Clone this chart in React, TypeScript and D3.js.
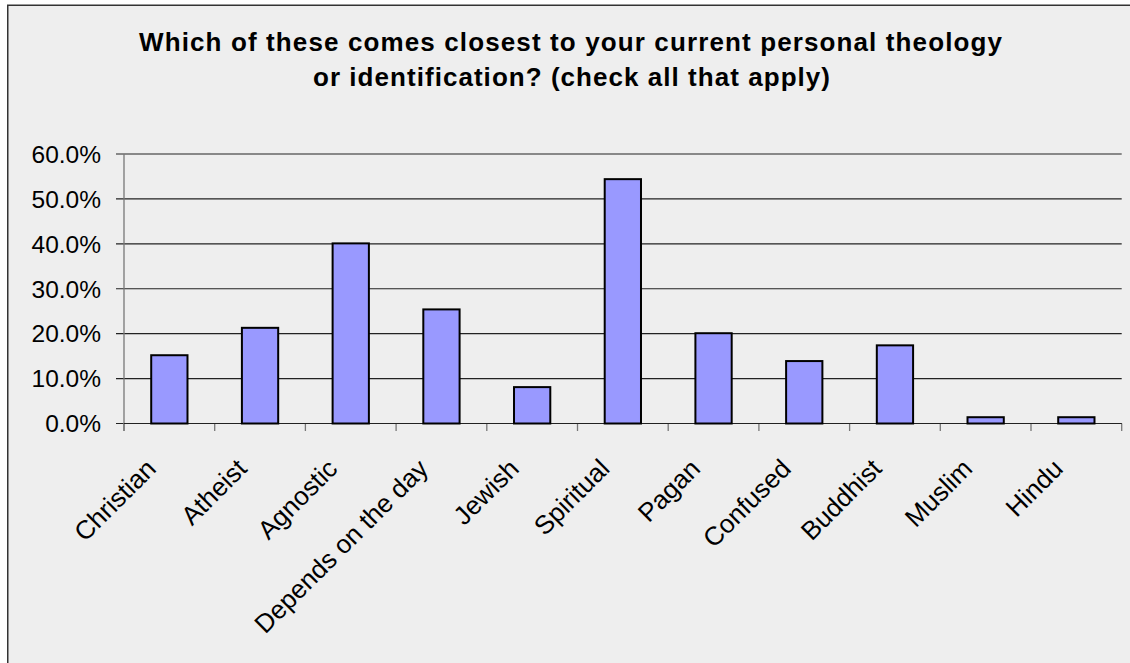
import React from "react";
import * as d3 from "d3";

const categories = [
  "Christian",
  "Atheist",
  "Agnostic",
  "Depends on the day",
  "Jewish",
  "Spiritual",
  "Pagan",
  "Confused",
  "Buddhist",
  "Muslim",
  "Hindu",
];
const values = [0.152, 0.213, 0.401, 0.254, 0.081, 0.544, 0.201, 0.139, 0.174, 0.014, 0.014];
const yTicks = [0, 0.1, 0.2, 0.3, 0.4, 0.5, 0.6];
const titleLines = [
  "Which of these comes closest to your current personal theology",
  "or identification? (check all that apply)",
];

const W = 1130;
const H = 663;
const plotLeft = 124;
const plotRight = 1121.7;
const plotTop = 154;
const plotBottom = 423.5;

export default function App() {
  const x = d3
    .scaleBand<string>()
    .domain(categories)
    .range([plotLeft, plotRight])
    .paddingInner(0.6)
    .paddingOuter(0.3);
  const step = x.step();
  const y = d3.scaleLinear().domain([0, 0.6]).range([plotBottom, plotTop]);
  const fmt = d3.format(".1%");
  const font = "'Liberation Sans', Arial, sans-serif";

  return (
    <svg
      width={W}
      height={H}
      style={{ position: "absolute", left: 0, top: 0, background: "#fff", overflow: "hidden" }}
      fontFamily={font}
    >
      <rect x={7.75} y={5.25} width={1300} height={800} fill="#eeeeee" stroke="#333" strokeWidth={1.5} />

      {/* title */}
      <text x={139} y={50.5} fontSize={26} fontWeight="bold" textLength={863} lengthAdjust="spacing" fill="#000">
        {titleLines[0]}
      </text>
      <text x={313} y={85.5} fontSize={26} fontWeight="bold" textLength={517} lengthAdjust="spacing" fill="#000">
        {titleLines[1]}
      </text>

      {/* gridlines & y ticks */}
      {yTicks.map((t) => (
        <g key={t}>
          <line x1={plotLeft - 8} x2={plotRight} y1={y(t)} y2={y(t)} stroke="#222" strokeWidth={1.1} />
          <text x={101} y={y(t)} dy="0.36em" textAnchor="end" fontSize={24.5} fill="#000">
            {fmt(t)}
          </text>
        </g>
      ))}

      {/* y axis line */}
      <line x1={plotLeft} x2={plotLeft} y1={plotTop} y2={plotBottom + 7.5} stroke="#777" strokeWidth={1.3} />

      {/* x ticks */}
      {d3.range(categories.length + 1).map((i) => {
        const tx = plotLeft + i * step;
        return <line key={i} x1={tx} x2={tx} y1={plotBottom} y2={plotBottom + 7.5} stroke="#777" strokeWidth={1.3} />;
      })}
      <line x1={plotLeft} x2={plotRight} y1={plotBottom} y2={plotBottom} stroke="#222" strokeWidth={1.1} />

      {/* bars */}
      {categories.map((c, i) => (
        <rect
          key={c}
          x={x(c)!}
          y={y(values[i])}
          width={x.bandwidth()}
          height={plotBottom - y(values[i])}
          fill="#9999ff"
          stroke="#000"
          strokeWidth={2}
        />
      ))}

      {/* x labels */}
      {categories.map((c) => {
        const cx = x(c)! + x.bandwidth() / 2;
        return (
          <text
            key={c}
            transform={`translate(${cx - 25},${457}) rotate(-45)`}
            dy="0.72em"
            textAnchor="end"
            fontSize={26}
            fill="#000"
          >
            {c}
          </text>
        );
      })}
    </svg>
  );
}
